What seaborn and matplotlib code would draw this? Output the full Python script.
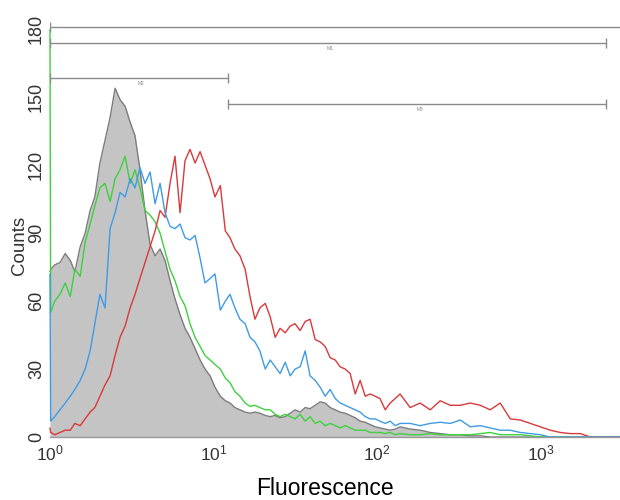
import matplotlib
matplotlib.use("Agg")
import matplotlib.pyplot as plt
from matplotlib.ticker import FixedLocator, NullLocator, LogFormatterSciNotation
import numpy as np
import pandas as pd
import seaborn as sns

# fluorescence bin positions
FLUOR = [
    1.0, 1.01, 1.07, 1.15, 1.24, 1.33, 1.42, 1.53, 1.64, 1.76,
    1.88, 2.02, 2.17, 2.33, 2.50, 2.68, 2.88, 3.09, 3.31, 3.55,
    3.81, 4.09, 4.39, 4.71, 5.05, 5.42, 5.81, 6.24, 6.69, 7.18,
    7.71, 8.27, 8.87, 9.52, 10.2, 11.0, 11.8, 12.6, 13.5, 14.5,
    15.6, 16.7, 17.9, 19.2, 20.7, 22.2, 23.8, 25.5, 27.4, 29.4,
    31.5, 33.8, 36.3, 38.9, 41.8, 44.8, 48.1, 51.6, 55.4, 59.4,
    63.7, 68.4, 73.4, 78.7, 84.5, 90.6, 97.2, 104, 112, 120,
    129, 138, 159, 183, 211, 243, 280, 322, 371, 427,
    491, 565, 651, 749, 863, 993, 1143, 1316, 1515, 1744,
    2009, 2300, 2650, 3050,
]

CONTROL = [
    73, 74, 76, 77, 81, 78, 73, 84, 90, 100,
    106, 121, 131, 141, 154, 149, 146, 139, 133, 118,
    100, 85, 80, 83, 78, 69, 61, 54, 48, 44,
    39, 34, 30, 27, 22, 18, 16, 15, 13, 12,
    11, 10.5, 11, 10.5, 9.5, 9, 9.5, 8.5, 9, 10.5,
    12, 11, 13, 12.5, 14, 15.5, 15, 13, 12, 11,
    10.5, 9.5, 8.5, 7, 6.5, 5.5, 4.5, 4, 3.5, 3,
    3.5, 4.5, 3.5, 3, 2, 1.5, 1, 1, 0.5, 0.5,
    0, 0, 0, 0, 0, 0, 0, 0, 0, 0,
    0, 0, 0, 0,
]

GREEN = [
    180, 55, 60, 63, 68, 62, 74, 71, 86, 94,
    102, 110, 112, 104, 114, 118, 124, 112, 118, 110,
    100, 98, 95, 90, 82, 74, 69, 62, 58, 50,
    44, 40, 36, 34, 32, 30, 26, 24, 20, 18,
    15, 13.5, 14, 13, 12, 12, 10, 9, 10, 9,
    8, 10, 7, 9, 6, 7, 5, 6, 5, 4,
    5, 4, 3, 3, 3, 2, 2, 2, 1.5, 2,
    1, 1.5, 1, 1, 1.5, 1, 1, 1, 1, 1.5,
    2, 1, 1, 1, 0.5, 0, 0, 0, 0, 0,
    0, 0, 0, 0,
]

BLUE = [
    72, 7, 9, 12, 15, 18, 21, 25, 30, 38,
    50, 63, 57, 92, 99, 108, 106, 114, 110, 119,
    112, 117, 103, 112, 99, 93, 92, 94, 88, 87,
    89, 79, 68, 70, 72, 56, 60, 63, 57, 52,
    50, 44, 42, 38, 30, 34, 31, 28, 33, 27,
    30, 31, 38, 27, 25, 22, 18, 21, 17, 15,
    14, 13, 12, 11, 9, 8, 8, 7, 6, 7,
    5, 6, 6, 5, 6, 6.5, 6, 7.5, 4.5, 5,
    4, 3, 3, 2, 1.5, 1, 0, 0, 0, 0,
    0, 0, 0, 0,
]

RED = [
    4, 2, 1, 2, 3, 3, 6, 5, 8, 11,
    13, 18, 23, 27, 36, 44, 49, 57, 63, 70,
    77, 84, 91, 100, 97, 112, 124, 99, 122, 127,
    121, 126, 120, 114, 106, 111, 91, 88, 83, 80,
    74, 62, 52, 57, 59, 53, 44, 48, 46, 49,
    50, 47, 51, 52, 43, 42, 40, 35, 34, 31,
    30, 28, 19, 25, 18, 19, 18, 17, 12, 15,
    17, 19, 13, 15, 12, 16, 14, 14, 15, 14,
    12, 15, 8, 7.5, 6, 4.5, 3, 2, 1.5, 1.5,
    0, 0, 0, 0,
]

# marker gates: level, low edge, high edge, name
GATE_Y = [181, 174, 158.5, 147]
GATE_LO = [1.0, 1.0, 1.0, 12.2]
GATE_HI = [6000, 2520, 12.2, 2520]
GATE_NAMES = ["", "M1", "M2", "M3"]
GATE_LABEL_X = [None, 51.6, 3.6, 183]

X_TICKS = [1, 10, 100, 1000]
Y_TICKS = [0, 30, 60, 90, 120, 150, 180]

COLORS = {
    "control": "#7c7c7c",
    "green": "#3ed03e",
    "red": "#d9393b",
    "blue": "#3f9be6",
}
FILL_COLOR = "#c4c4c4"
GATE_COLOR = "#8a8a8a"

sns.set_theme(style="white")
plt.rcParams["font.family"] = ["Liberation Sans", "DejaVu Sans"]

df = pd.DataFrame({
    "fluor": FLUOR,
    "control": CONTROL,
    "green": GREEN,
    "red": RED,
    "blue": BLUE,
})
long = df.melt(id_vars="fluor", var_name="sample", value_name="count")

fig = plt.figure(figsize=(6.2, 5.0), dpi=100)
ax = fig.add_axes([0.0806, 0.126, 0.9194, 0.838])
ax.set_xscale("log")

ax.fill_between(df["fluor"], 0, df["control"], color=FILL_COLOR, lw=0, zorder=1)
sns.lineplot(
    data=long, x="fluor", y="count", hue="sample",
    hue_order=["control", "green", "red", "blue"],
    palette=COLORS, estimator=None, sort=False,
    lw=1.0, legend=False, ax=ax,
)
# let the first-bin spikes show fully on the left edge
for line in ax.lines:
    line.set_clip_on(False)

# gates
for gy, lo, hi, name, lx in zip(GATE_Y, GATE_LO, GATE_HI, GATE_NAMES, GATE_LABEL_X):
    ax.plot([lo, hi], [gy, gy], color=GATE_COLOR, lw=1.0, marker="|",
            markersize=7, markeredgewidth=1.0, zorder=3)
    if name:
        ax.text(lx, gy - 1.5, name, fontsize=3.5, color=GATE_COLOR,
                ha="center", va="top")

ax.set_xlim(1, 3050)
ax.set_ylim(0, 185)

ax.xaxis.set_major_locator(FixedLocator(X_TICKS))
ax.xaxis.set_major_formatter(LogFormatterSciNotation())
ax.xaxis.set_minor_locator(NullLocator())
ax.set_yticks(Y_TICKS)
ax.tick_params(axis="x", length=0, pad=4.5, labelsize=12.5, colors="#333333")
ax.tick_params(axis="y", length=0, pad=3.5, labelsize=13, colors="#333333")
for lab in ax.get_yticklabels():
    lab.set_rotation(90)
    lab.set_va("center")

for side in ["top", "right", "left"]:
    ax.spines[side].set_visible(False)
ax.spines["bottom"].set_color("#9a9a9a")
ax.spines["bottom"].set_linewidth(1.0)

ax.set_xlabel("Fluorescence", fontsize=16.5, color="black")
ax.xaxis.set_label_coords(0.482, -0.095)
ax.set_ylabel("Counts", fontsize=13.5, color="#333333")
ax.yaxis.set_label_coords(-0.039, 0.458)

fig.savefig("out.png", dpi=100, facecolor="white")
